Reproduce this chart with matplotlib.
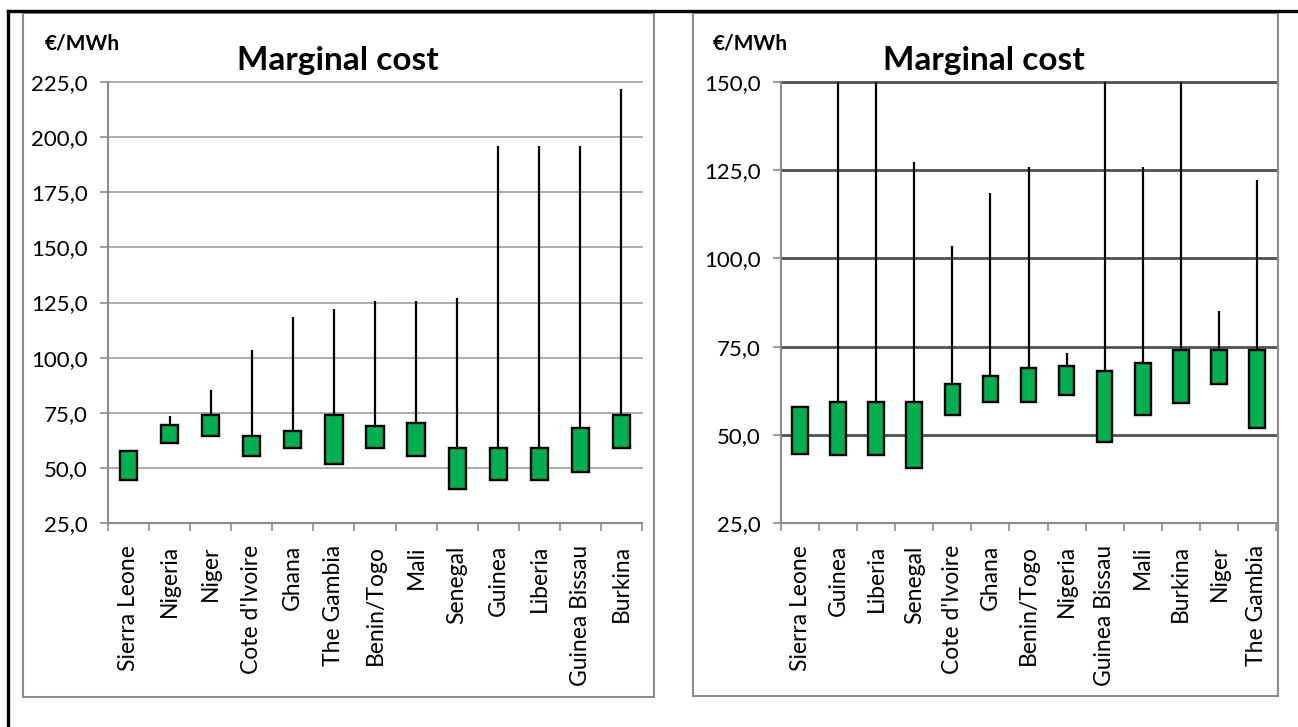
import matplotlib
matplotlib.use("Agg")
import matplotlib.pyplot as plt
import numpy as np
from matplotlib.patches import Rectangle
from matplotlib.lines import Line2D
from matplotlib.ticker import FuncFormatter

plt.rcParams['font.family'] = ['Lato', 'DejaVu Sans']

# ---- data ----
countries = ["Sierra Leone", "Nigeria", "Niger", "Cote d'Ivoire", "Ghana", "The Gambia",
             "Benin/Togo", "Mali", "Senegal", "Guinea", "Liberia", "Guinea Bissau", "Burkina"]
low = [44.5, 61.4, 64.4, 55.5, 59.2, 51.9, 59.2, 55.5, 40.6, 44.4, 44.4, 48.1, 59.1]
high = [57.8, 69.6, 74.1, 64.5, 66.7, 74.1, 68.9, 70.4, 59.2, 59.2, 59.2, 68.1, 74.1]
peak = [57.8, 73.3, 85.1, 103.6, 118.4, 122.2, 125.8, 125.8, 127.2, 196.0, 196.0, 196.0, 222.0]

right_order = ["Sierra Leone", "Guinea", "Liberia", "Senegal", "Cote d'Ivoire", "Ghana",
               "Benin/Togo", "Nigeria", "Guinea Bissau", "Mali", "Burkina", "Niger", "The Gambia"]

left_ticks = [25, 50, 75, 100, 125, 150, 175, 200, 225]
right_ticks = [25, 50, 75, 100, 125, 150]
title = "Marginal cost"
unit = "€/MWh"

W, H = 1298, 727
fig = plt.figure(figsize=(W / 100, H / 100), dpi=100)


def fx(px):
    return px / W


def fy(py):
    return 1 - py / H


GREEN = "#00B050"
fmt = FuncFormatter(lambda v, p: f"{v:.1f}".replace(".", ","))


def draw(ax, names, lo, hi, pk, ticks, gridcolor, gridlw, boxw):
    x = np.arange(len(names))
    ax.vlines(x, hi, pk, color="black", lw=1.6, zorder=3)
    ax.bar(x, np.array(hi) - np.array(lo), bottom=lo, width=boxw, color=GREEN,
           edgecolor="black", linewidth=1.7, zorder=4)
    ax.set_xlim(-0.5, len(names) - 0.5)
    ax.set_ylim(ticks[0], ticks[-1])
    ax.set_yticks(ticks)
    ax.yaxis.set_major_formatter(fmt)
    ax.set_xticks(x)
    ax.set_xticklabels(names, rotation=90, fontsize=16.5)
    ax.set_xticks(np.arange(-0.5, len(names)), minor=True)
    ax.tick_params(axis="x", which="major", length=0, pad=16)
    ax.tick_params(axis="x", which="minor", length=5.5, width=1.2, color="#8C8C8C", direction="out")
    ax.tick_params(axis="y", which="major", length=5.5, width=1.2, color="#8C8C8C",
                   labelsize=16, pad=9)
    for t in ticks[1:]:
        ax.axhline(t, color=gridcolor, lw=gridlw, zorder=1, clip_on=False)
    for s in ["top", "right"]:
        ax.spines[s].set_visible(False)
    for s in ["left", "bottom"]:
        ax.spines[s].set_color("#8C8C8C")
        ax.spines[s].set_linewidth(1.5)
    ax.set_facecolor("none")


# left chart
axL = fig.add_axes([fx(108), fy(523), fx(642 - 108), (523 - 82) / H])
draw(axL, countries, low, high, peak, left_ticks, "#A6A6A6", 1.3, 0.42)

# right chart (same data, different order, clipped scale)
idx = [countries.index(c) for c in right_order]
axR = fig.add_axes([fx(781), fy(523), fx(1276 - 781), (523 - 82) / H])
draw(axR, right_order, [low[i] for i in idx], [high[i] for i in idx], [peak[i] for i in idx],
     right_ticks, "#505050", 2.0, 0.41)

# chart frames
fig.add_artist(Rectangle((fx(23), fy(697)), fx(654 - 23), (697 - 13) / H, fill=False,
                         edgecolor="#8C8C8C", lw=1.5, transform=fig.transFigure))
fig.add_artist(Rectangle((fx(693), fy(696)), fx(1278 - 693), (696 - 13) / H, fill=False,
                         edgecolor="#8C8C8C", lw=1.5, transform=fig.transFigure))

# outer black lines
fig.add_artist(Line2D([fx(8), 1], [fy(11), fy(11)], color="black", lw=2.4, transform=fig.transFigure))
fig.add_artist(Line2D([fx(8), fx(8)], [fy(11), 0], color="black", lw=2.4, transform=fig.transFigure))

# titles and units
fig.text(fx(338), fy(70), title, ha="center", va="baseline", fontsize=24, fontweight="bold")
fig.text(fx(82), fy(50), unit, ha="center", va="baseline", fontsize=15, fontweight="bold")
fig.text(fx(984), fy(70), title, ha="center", va="baseline", fontsize=24, fontweight="bold")
fig.text(fx(750), fy(50), unit, ha="center", va="baseline", fontsize=15, fontweight="bold")

fig.savefig("out.png", dpi=100)
